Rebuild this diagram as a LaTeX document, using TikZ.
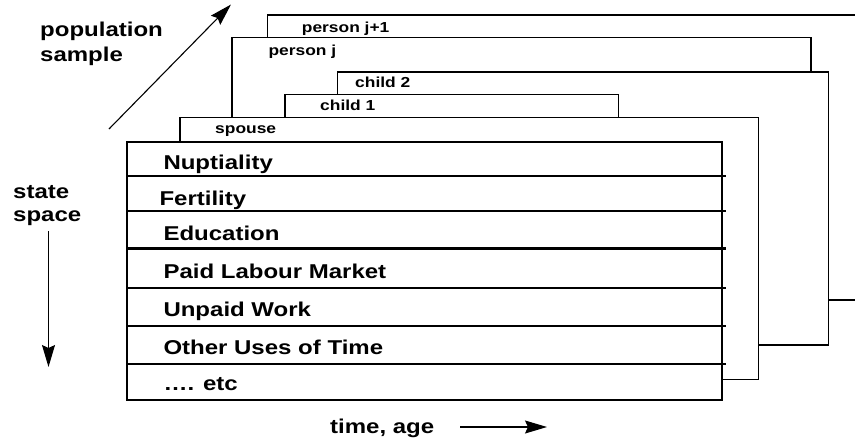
\documentclass[tikz,border=0pt]{standalone}
\usepackage{fontspec}
\setmainfont{Liberation Sans}[FakeStretch=1.2]
\usetikzlibrary{arrows.meta}

\begin{document}
\begin{tikzpicture}[x=1pt,y=-1pt,line join=miter,>={Stealth[length=22pt,width=13pt,inset=3pt]},
  every node/.style={inner sep=0pt},
  lbl/.style={anchor=base west,font=\bfseries\fontsize{20}{24}\selectfont},
  tab/.style={anchor=base west,font=\bfseries\fontsize{14.5}{17}\selectfont},
  card/.style={line width=1.2pt},
  front/.style={line width=2.4pt}]
  \useasboundingbox (0,0) rectangle (855,440);
  % cards behind the front one
  \draw[card] (267.7,37.7) -- (267.7,15) -- (855,15);
  \draw[card] (828.7,300) -- (855,300);
  \draw[card] (232,117.3) -- (232,37.7) -- (811,37.7) -- (811,72);
  \draw[card] (337.7,94.3) -- (337.7,72) -- (828.7,72) -- (828.7,345) -- (758.7,345);
  \draw[card] (285,117.3) -- (285,94.3) -- (618.3,94.3) -- (618.3,117.3);
  \draw[card] (180,141.7) -- (180,117.3) -- (758.7,117.3) -- (758.7,379.3) -- (722,379.3);
  \node[tab] (pjj) at (301.7,32.7) {person j+1};
  \node[tab] (pj) at (268.3,55) {person j};
  \node[tab] (ch2) at (355,87.3) {child 2};
  \node[tab] (ch1) at (320,110.7) {child 1};
  \node[tab] (sp) at (215,133.3) {spouse};
  % front card: the state space
  \draw[front] (127,141.7) rectangle (722,400);
  \foreach \y in {175.7,210.7,248.3,288,325.7,363.7}
    \draw[front] (127,\y) -- (726,\y);
  \node[lbl] (nup) at (163.3,169.3) {Nuptiality};
  \node[lbl] (fer) at (159.3,205) {Fertility};
  \node[lbl] (edu) at (163.3,240) {Education};
  \node[lbl] (plm) at (163.3,278.3) {Paid Labour Market};
  \node[lbl] (upw) at (163.3,316) {Unpaid Work};
  \node[lbl] (oth) at (163.3,354) {Other Uses of Time};
  \node[lbl] (etc) at (163.3,390) {…. etc};
  % axes
  \node[lbl,align=left,font=\bfseries\fontsize{20}{25}\selectfont] (pop) at (40,61) {population\\sample};
  \node[lbl,align=left,font=\bfseries\fontsize{20}{23.4}\selectfont] (sts) at (13,221.7) {state\\space};
  \node[lbl] (tim) at (330,433.3) {time, age};
  \coordinate (popA) at (109,129);
  \coordinate (popB) at (231,4.5);
  \coordinate (stsA) at (48.5,231);
  \coordinate (stsB) at (48.5,367);
  \coordinate (timA) at (460,427);
  \coordinate (timB) at (547,427);
  \draw[->,line width=1.1pt] (popA) -- (popB);
  \draw[->,line width=1.1pt] (stsA) -- (stsB);
  \draw[->,line width=1.1pt] (timA) -- (timB);
\end{tikzpicture}
\end{document}
